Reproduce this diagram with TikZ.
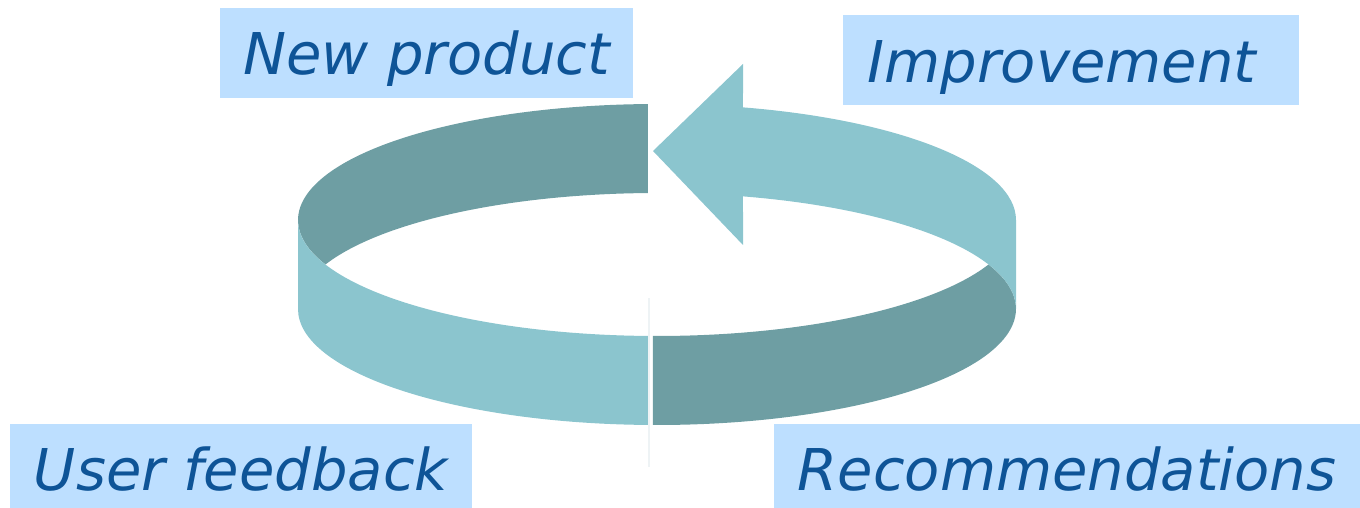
\documentclass[tikz,border=0pt]{standalone}
\usepackage{fontspec}
\setmainfont{DejaVu Sans}
\definecolor{ringdark}{HTML}{6E9EA3}
\definecolor{ringlight}{HTML}{8BC5CE}
\definecolor{boxbg}{HTML}{BDDFFF}
\definecolor{labeltext}{HTML}{0E5497}
\definecolor{seam}{HTML}{EEF3F5}
\begin{document}
\begin{tikzpicture}[x=1pt,y=1pt,
  box/.style={fill=boxbg, inner sep=0pt, text=labeltext,
    font=\fontsize{57.6pt}{60pt}\selectfont\itshape, text depth=0pt},
  ell/.style={x radius=359, y radius=116}]
\useasboundingbox (0,0) rectangle (1360,508);
% back-left band (dark)
\fill[ringdark] ([shift={(657,288)}]91.44:359 and 116)
  arc[start angle=91.44, end angle=202.56, ell]
  arc[start angle=157.44, end angle=91.44, ell] -- cycle;
% front-left band (light)
\fill[ringlight] (298,288) -- (298,199)
  arc[start angle=180, end angle=268.56, ell]
  -- ([shift={(657,288)}]268.56:359 and 116)
  arc[start angle=268.56, end angle=180, ell] -- cycle;
% front-right band (dark)
\fill[ringdark] ([shift={(657,288)}]269.36:359 and 116)
  arc[start angle=269.36, end angle=337.44, ell]
  arc[start angle=22.56, end angle=-90.64, ell] -- cycle;
% back-right band with arrow head (light)
\fill[ringlight] ([shift={(657,288)}]76.14:359 and 116)
  arc[start angle=76.14, end angle=0, ell] -- (1016,199)
  arc[start angle=0, end angle=76.14, ell]
  -- (743,263) -- (653,357) -- (743,444) -- cycle;
% faint seam
\draw[seam, line width=1.2] (649,210) -- (649,41);
% labels
\node[box, minimum width=413, minimum height=90, text height=44pt] (newp) at (426.5,455) {New product};
\node[box, minimum width=456, minimum height=90, text height=46pt] (impr) at (1071,448) {Improvement\hspace*{18pt}};
\node[box, minimum width=462, minimum height=84, text height=49pt] (user) at (241,42) {User feedback};
\node[box, minimum width=586, minimum height=84, text height=49pt] (recs) at (1067,42) {Recommendations};
\end{tikzpicture}
\end{document}
